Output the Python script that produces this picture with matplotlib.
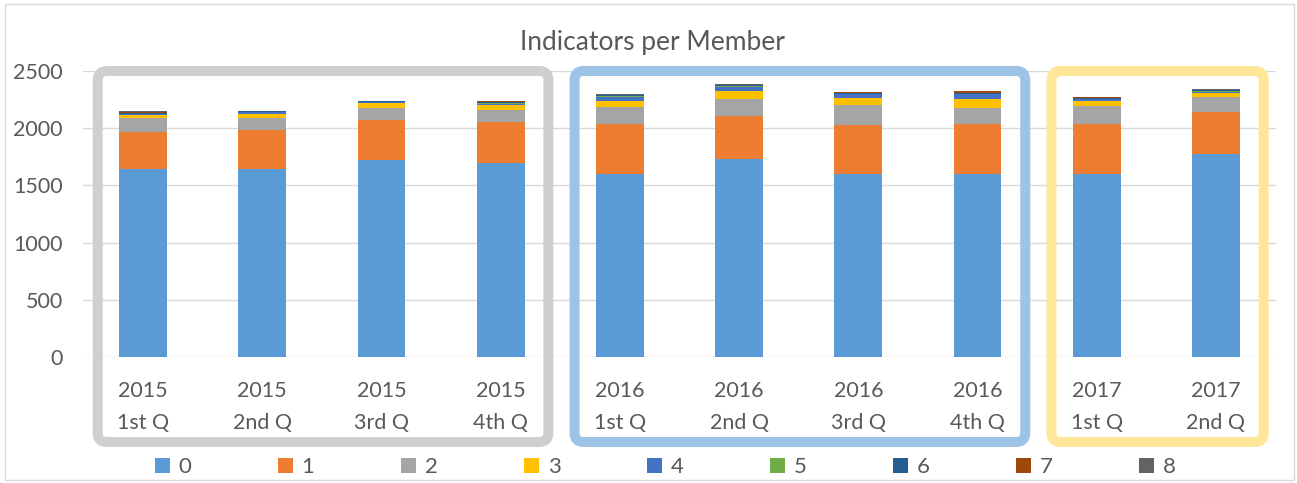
import numpy as np
import matplotlib
matplotlib.use('Agg')
import matplotlib.pyplot as plt
from matplotlib.patches import FancyBboxPatch, Rectangle
from matplotlib.transforms import IdentityTransform

# data
quarters = ['2015\n1st Q', '2015\n2nd Q', '2015\n3rd Q', '2015\n4th Q',
            '2016\n1st Q', '2016\n2nd Q', '2016\n3rd Q', '2016\n4th Q',
            '2017\n1st Q', '2017\n2nd Q']
s0 = [1643, 1643, 1725, 1696, 1600, 1730, 1600, 1600, 1600, 1774]
s1 = [326, 344, 349, 361, 436, 379, 430, 436, 436, 370]
s2 = [123, 105, 105, 105, 152, 148, 175, 143, 161, 126]
s3 = [23, 34, 38, 41, 52, 70, 61, 73, 43, 40]
s4 = [10, 15, 10, 8, 32, 33, 33, 44, 13, 5]
s5 = [0, 0, 0, 10, 10, 5, 3, 4, 3, 12]
s6 = [10, 5, 7, 8, 12, 10, 8, 12, 5, 8]
s7 = [8, 0, 0, 8, 0, 5, 4, 10, 8, 3]
s8 = [5, 3, 5, 5, 4, 3, 3, 5, 3, 5]
series = [s0, s1, s2, s3, s4, s5, s6, s7, s8]
names = ['0', '1', '2', '3', '4', '5', '6', '7', '8']
colors = ['#5B9BD5', '#ED7D31', '#A5A5A5', '#FFC000', '#4472C4',
          '#70AD47', '#255E91', '#9E480E', '#636363']

# year groups (first, last index) and frame colours
groups = [(0, 3, '#D0CECE'), (4, 7, '#9DC3E6'), (8, 9, '#FFE699')]

plt.rcParams['font.family'] = ['Lato', 'DejaVu Sans']
txt = '#595959'

fig = plt.figure(figsize=(12.97, 4.83), dpi=100)
ax = fig.add_axes([0.0643, 0.2609, 0.9192, 0.5921])

x = np.arange(len(quarters))
bottom = np.zeros(len(quarters))
for vals, c, n in zip(series, colors, names):
    ax.bar(x, vals, 0.4, bottom=bottom, color=c, label=n, zorder=3)
    bottom += np.array(vals)

ax.set_xlim(-0.5, len(quarters) - 0.5)
ax.set_ylim(0, 2500)
ax.set_yticks(range(0, 2501, 500))
ax.grid(axis='y', color='#D9D9D9', lw=1, zorder=0)
for s in ax.spines.values():
    s.set_visible(False)
ax.tick_params(length=0, colors=txt, labelsize=15.5)
ax.tick_params(axis='y', pad=15)
ax.tick_params(axis='x', pad=17)
ax.set_xticks(x)
ax.set_xticklabels(quarters, linespacing=1.75)

fig.text(0.503, 0.913, 'Indicators per Member', ha='center', va='center',
         fontsize=19, color=txt)

# rounded frames around each year
fig.canvas.draw()
for g0, g1, col in groups:
    xa = ax.transData.transform((g0 - 0.38, 0))[0]
    xb = ax.transData.transform((g1 + 0.40, 0))[0]
    ytop = ax.transData.transform((0, 2500))[1]
    ybot = 41
    box = FancyBboxPatch((xa, ybot), xb - xa, ytop - ybot,
                         boxstyle='round,pad=0,rounding_size=9',
                         fill=False, ec=col, lw=7.2,
                         transform=IdentityTransform())
    fig.add_artist(box)

leg = ax.legend(loc='center', bbox_to_anchor=(0.488, -0.385), ncol=9,
                frameon=False, fontsize=16, labelcolor=txt,
                handlelength=0.675, handleheight=0.675, handletextpad=0.4,
                columnspacing=3.88)

fig.add_artist(Rectangle((5 / 1297, 3 / 483), 1289 / 1297, 476 / 483,
                         fill=False, ec='#D9D9D9', lw=1,
                         transform=fig.transFigure))

fig.savefig('out.png', dpi=100)
